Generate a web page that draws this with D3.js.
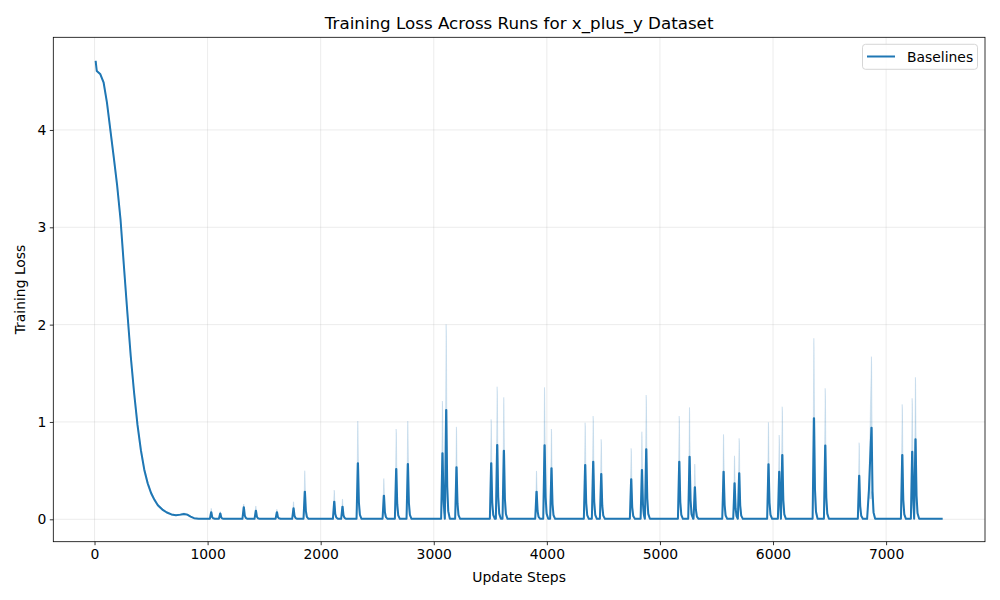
<!DOCTYPE html>
<html><head><meta charset="utf-8">
<script src="https://cdn.jsdelivr.net/npm/d3@7"></script>
<style>body{margin:0;background:#fff} text{font-family:"DejaVu Sans",sans-serif;fill:#000}</style>
</head><body><svg id="c" width="1000" height="600"></svg>
<script>
// ---- data ----
const xTicks = [0, 1000, 2000, 3000, 4000, 5000, 6000, 7000];
const yTicks = [0, 1, 2, 3, 4];
const seriesName = "Baselines";

// initial decay
const curveSteps = [10, 20, 50, 80, 110, 140, 170, 200, 230, 260, 290, 320, 350, 380, 410, 440, 470, 500, 530, 560, 600, 640, 680, 720, 760, 790, 820, 850, 880, 920, 960];
const curveMean  = [4.71, 4.605, 4.575, 4.49, 4.28, 4.00, 3.72, 3.43, 3.08, 2.60, 2.13, 1.68, 1.30, 0.97, 0.71, 0.51, 0.37, 0.27, 0.20, 0.145, 0.10, 0.07, 0.05, 0.042, 0.048, 0.055, 0.048, 0.028, 0.012, 0.006, 0.005];
const curveStd   = [0.005, 0.01, 0.01, 0.015, 0.02, 0.025, 0.03, 0.03, 0.035, 0.04, 0.04, 0.04, 0.04, 0.04, 0.035, 0.03, 0.025, 0.02, 0.015, 0.012, 0.01, 0.008, 0.006, 0.005, 0.008, 0.01, 0.008, 0.006, 0.004, 0.002, 0.002];

// loss spikes: step, mean at the peak, std at the peak
const spikeSteps = [1032, 1112, 1320, 1427, 1613, 1760, 1860, 2120, 2193, 2329, 2559, 2668, 2771, 3077, 3110, 3201, 3508, 3561, 3620, 3909, 3980, 4041, 4339, 4410, 4481, 4746, 4841, 4879, 5171, 5262, 5309, 5563, 5660, 5701, 5960, 6055, 6082, 6362, 6462, 6762, 6871, 7143, 7231, 7260];
const spikeMean  = [0.072, 0.06, 0.123, 0.089, 0.072, 0.113, 0.284, 0.181, 0.13, 0.575, 0.243, 0.517, 0.568, 0.678, 1.123, 0.534, 0.575, 0.763, 0.705, 0.284, 0.76, 0.524, 0.558, 0.592, 0.465, 0.411, 0.507, 0.719, 0.592, 0.643, 0.329, 0.489, 0.37, 0.472, 0.565, 0.489, 0.661, 1.038, 0.757, 0.448, 0.941, 0.661, 0.695, 0.822];
const spikeStd   = [0.041, 0.02, 0.034, 0.048, 0.031, 0.068, 0.216, 0.119, 0.079, 0.435, 0.177, 0.411, 0.442, 0.537, 0.88, 0.416, 0.452, 0.599, 0.548, 0.213, 0.596, 0.404, 0.435, 0.469, 0.357, 0.318, 0.393, 0.558, 0.469, 0.507, 0.239, 0.384, 0.283, 0.36, 0.432, 0.377, 0.496, 0.822, 0.589, 0.339, 0.73, 0.52, 0.548, 0.637];

// shoulder before the 6871 spike
const shoulderSteps = [6848];
const shoulderMean  = [0.30];
const shoulderStd   = [0.08];

const baseline = 0.005;
const lastStep = 7500;

// ---- layout ----
const W = 1000, H = 600;
const L = 53.3, R = 985, T = 37.3, B = 541.7;
const svg = d3.select("#c");
svg.append("rect").attr("width", W).attr("height", H).attr("fill", "#fff");

const x = d3.scaleLinear().domain([-364.5, 7874.5]).range([L, R]);
const y = d3.scaleLinear().domain([-0.2301, 4.952]).range([B, T]);

// grid
const grid = svg.append("g");
xTicks.forEach(t => grid.append("line").attr("x1", x(t)).attr("x2", x(t)).attr("y1", T).attr("y2", B)
  .attr("stroke", "#b0b0b0").attr("stroke-opacity", 0.3).attr("stroke-width", 0.8));
yTicks.forEach(t => grid.append("line").attr("x1", L).attr("x2", R).attr("y1", y(t)).attr("y2", y(t))
  .attr("stroke", "#b0b0b0").attr("stroke-opacity", 0.3).attr("stroke-width", 0.8));

// build vertices (each spike drawn as a sharp rise and short decay)
let verts = curveSteps.map((s, i) => ({x: s, m: curveMean[i], s: curveStd[i]}));
shoulderSteps.forEach((s, i) => { verts.push({x: s - 16, m: baseline, s: 0}); verts.push({x: s, m: shoulderMean[i], s: shoulderStd[i]}); });
spikeSteps.forEach((s, i) => {
  const next = i + 1 < spikeSteps.length ? spikeSteps[i + 1] : Infinity;
  const hasShoulder = shoulderSteps.some(v => v < s && v > s - 30);
  if (!hasShoulder) verts.push({x: s - 12, m: baseline, s: 0});
  verts.push({x: s - 1, m: spikeMean[i], s: spikeStd[i]});
  verts.push({x: s + 1, m: spikeMean[i], s: spikeStd[i] * 0.9});
  const tail = [
    {x: s + 9, m: spikeMean[i] * 0.3, s: spikeStd[i] * 0.25},
    {x: s + 18, m: spikeMean[i] * 0.07 + baseline, s: spikeStd[i] * 0.04},
    {x: s + 32, m: baseline, s: 0}
  ];
  const limit = next - 12;
  tail.forEach((v, k) => {
    if (v.x < limit) verts.push(v);
    else if (k === 0 || tail[k - 1].x < limit) verts.push({x: limit - 1, m: Math.max(baseline, v.m * 0.6), s: v.s * 0.5});
  });
});
verts.push({x: lastStep, m: baseline, s: 0});
verts.sort((a, b) => a.x - b.x);

svg.append("clipPath").attr("id", "pc").append("rect")
  .attr("x", L).attr("y", T).attr("width", R - L).attr("height", B - T);
const plot = svg.append("g").attr("clip-path", "url(#pc)");
const col = "#1f77b4";

plot.append("path").datum(verts)
  .attr("d", d3.area().x(d => x(d.x)).y0(d => y(Math.max(0, d.m - d.s))).y1(d => y(d.m + d.s)))
  .attr("fill", col).attr("fill-opacity", 0.2).attr("stroke", col).attr("stroke-opacity", 0.12).attr("stroke-width", 1);
plot.append("path").datum(verts)
  .attr("d", d3.line().x(d => x(d.x)).y(d => y(d.m)))
  .attr("fill", "none").attr("stroke", col).attr("stroke-width", 2).attr("stroke-linejoin", "round");

// axes
const xa = svg.append("g").attr("transform", `translate(0,${B})`)
  .call(d3.axisBottom(x).tickValues(xTicks).tickFormat(d3.format("d")).tickSize(3.5).tickPadding(3.5));
const ya = svg.append("g").attr("transform", `translate(${L},0)`)
  .call(d3.axisLeft(y).tickValues(yTicks).tickFormat(d3.format("d")).tickSize(3.5).tickPadding(3.5));
[xa, ya].forEach(a => {
  a.select(".domain").remove();
  a.selectAll("line").attr("stroke", "#000").attr("stroke-width", 0.8);
  a.selectAll("text").attr("font-size", 13.9).attr("font-family", "DejaVu Sans").attr("fill", "#000");
});

// frame
svg.append("rect").attr("x", L).attr("y", T).attr("width", R - L).attr("height", B - T)
  .attr("fill", "none").attr("stroke", "#000").attr("stroke-width", 0.8);

// labels
svg.append("text").attr("x", (L + R) / 2).attr("y", 29).attr("text-anchor", "middle")
  .attr("font-size", 16.7).text("Training Loss Across Runs for x_plus_y Dataset");
svg.append("text").attr("x", (L + R) / 2).attr("y", 582).attr("text-anchor", "middle")
  .attr("font-size", 13.9).text("Update Steps");
svg.append("text").attr("transform", `translate(25,${(T + B) / 2}) rotate(-90)`).attr("text-anchor", "middle")
  .attr("font-size", 13.9).text("Training Loss");

// legend
const lg = svg.append("g");
lg.append("rect").attr("x", 862.5).attr("y", 44.3).attr("width", 115).attr("height", 25).attr("rx", 3)
  .attr("fill", "#fff").attr("fill-opacity", 0.8).attr("stroke", "#cccccc").attr("stroke-width", 0.8);
lg.append("line").attr("x1", 867).attr("x2", 895).attr("y1", 56.5).attr("y2", 56.5)
  .attr("stroke", col).attr("stroke-width", 2);
lg.append("text").attr("x", 907).attr("y", 61.5).attr("font-size", 13.9).text(seriesName);
</script></body></html>
